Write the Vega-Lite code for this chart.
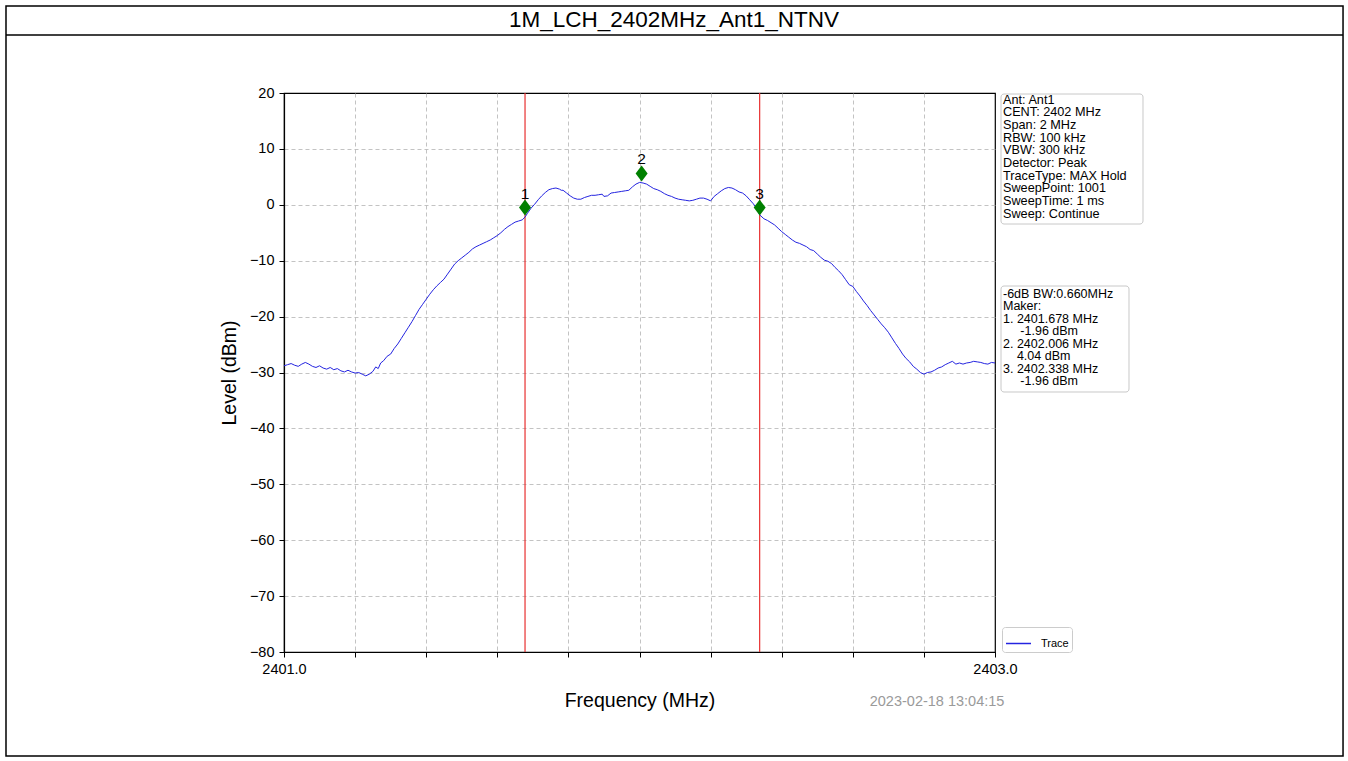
{
  "$schema": "https://vega.github.io/schema/vega-lite/v6.json",
  "autosize": {"type": "none"},
  "padding": {"left": 284, "top": 93, "right": 353, "bottom": 109},
  "width": 711,
  "height": 559,
  "background": "white",
  "datasets": {
    "trace": [
      {"f": 2401.000, "lvl": -28.8}, {"f": 2401.010, "lvl": -28.6}, {"f": 2401.020, "lvl": -28.4},
      {"f": 2401.030, "lvl": -28.7}, {"f": 2401.040, "lvl": -28.9}, {"f": 2401.050, "lvl": -28.5},
      {"f": 2401.060, "lvl": -28.2}, {"f": 2401.070, "lvl": -28.5}, {"f": 2401.080, "lvl": -28.9},
      {"f": 2401.090, "lvl": -29.1}, {"f": 2401.100, "lvl": -28.8}, {"f": 2401.110, "lvl": -29.2},
      {"f": 2401.120, "lvl": -29.4}, {"f": 2401.130, "lvl": -29.1}, {"f": 2401.140, "lvl": -29.5},
      {"f": 2401.150, "lvl": -29.3}, {"f": 2401.160, "lvl": -29.7}, {"f": 2401.170, "lvl": -29.9},
      {"f": 2401.180, "lvl": -29.6}, {"f": 2401.190, "lvl": -29.9}, {"f": 2401.200, "lvl": -30.1},
      {"f": 2401.210, "lvl": -30.0}, {"f": 2401.220, "lvl": -30.3}, {"f": 2401.230, "lvl": -30.6},
      {"f": 2401.240, "lvl": -30.3}, {"f": 2401.250, "lvl": -29.8}, {"f": 2401.258, "lvl": -29.0},
      {"f": 2401.265, "lvl": -29.3}, {"f": 2401.272, "lvl": -28.3}, {"f": 2401.280, "lvl": -27.9},
      {"f": 2401.290, "lvl": -27.1}, {"f": 2401.300, "lvl": -26.7}, {"f": 2401.310, "lvl": -25.7},
      {"f": 2401.320, "lvl": -24.9}, {"f": 2401.330, "lvl": -23.9}, {"f": 2401.340, "lvl": -22.9},
      {"f": 2401.350, "lvl": -21.9}, {"f": 2401.360, "lvl": -20.9}, {"f": 2401.370, "lvl": -19.8},
      {"f": 2401.380, "lvl": -18.7}, {"f": 2401.390, "lvl": -17.8}, {"f": 2401.400, "lvl": -16.9},
      {"f": 2401.410, "lvl": -16.0}, {"f": 2401.420, "lvl": -15.2}, {"f": 2401.430, "lvl": -14.5},
      {"f": 2401.440, "lvl": -13.9}, {"f": 2401.450, "lvl": -13.3}, {"f": 2401.460, "lvl": -12.4},
      {"f": 2401.470, "lvl": -11.5}, {"f": 2401.480, "lvl": -10.6}, {"f": 2401.490, "lvl": -10.0},
      {"f": 2401.500, "lvl": -9.5}, {"f": 2401.510, "lvl": -9.0}, {"f": 2401.520, "lvl": -8.5},
      {"f": 2401.530, "lvl": -7.9}, {"f": 2401.540, "lvl": -7.5}, {"f": 2401.550, "lvl": -7.2},
      {"f": 2401.560, "lvl": -6.9}, {"f": 2401.570, "lvl": -6.6}, {"f": 2401.580, "lvl": -6.3},
      {"f": 2401.590, "lvl": -5.9}, {"f": 2401.600, "lvl": -5.5}, {"f": 2401.610, "lvl": -5.0},
      {"f": 2401.620, "lvl": -4.4}, {"f": 2401.630, "lvl": -3.9}, {"f": 2401.640, "lvl": -3.5},
      {"f": 2401.650, "lvl": -3.1}, {"f": 2401.660, "lvl": -2.9}, {"f": 2401.670, "lvl": -2.7},
      {"f": 2401.678, "lvl": -2.2}, {"f": 2401.685, "lvl": -1.5}, {"f": 2401.695, "lvl": -0.6},
      {"f": 2401.705, "lvl": 0.1}, {"f": 2401.715, "lvl": 0.9}, {"f": 2401.725, "lvl": 1.6},
      {"f": 2401.735, "lvl": 2.2}, {"f": 2401.745, "lvl": 2.7}, {"f": 2401.755, "lvl": 2.9},
      {"f": 2401.765, "lvl": 3.0}, {"f": 2401.775, "lvl": 2.8}, {"f": 2401.780, "lvl": 2.6},
      {"f": 2401.785, "lvl": 2.6}, {"f": 2401.795, "lvl": 2.1}, {"f": 2401.805, "lvl": 1.6},
      {"f": 2401.815, "lvl": 1.2}, {"f": 2401.825, "lvl": 1.0}, {"f": 2401.835, "lvl": 1.0},
      {"f": 2401.845, "lvl": 1.3}, {"f": 2401.855, "lvl": 1.5}, {"f": 2401.865, "lvl": 1.7},
      {"f": 2401.875, "lvl": 1.7}, {"f": 2401.885, "lvl": 1.8}, {"f": 2401.895, "lvl": 1.9},
      {"f": 2401.900, "lvl": 1.5}, {"f": 2401.910, "lvl": 1.6}, {"f": 2401.920, "lvl": 2.1},
      {"f": 2401.930, "lvl": 2.2}, {"f": 2401.940, "lvl": 2.3}, {"f": 2401.950, "lvl": 2.4},
      {"f": 2401.960, "lvl": 2.5}, {"f": 2401.970, "lvl": 2.6}, {"f": 2401.980, "lvl": 3.2},
      {"f": 2401.990, "lvl": 3.7}, {"f": 2402.000, "lvl": 4.0}, {"f": 2402.010, "lvl": 3.9},
      {"f": 2402.020, "lvl": 3.7}, {"f": 2402.030, "lvl": 3.3}, {"f": 2402.040, "lvl": 2.9},
      {"f": 2402.050, "lvl": 2.7}, {"f": 2402.060, "lvl": 2.4}, {"f": 2402.070, "lvl": 2.0},
      {"f": 2402.080, "lvl": 1.7}, {"f": 2402.090, "lvl": 1.5}, {"f": 2402.100, "lvl": 1.2},
      {"f": 2402.110, "lvl": 1.0}, {"f": 2402.120, "lvl": 0.9}, {"f": 2402.130, "lvl": 0.8},
      {"f": 2402.140, "lvl": 0.7}, {"f": 2402.150, "lvl": 0.8}, {"f": 2402.160, "lvl": 1.0},
      {"f": 2402.170, "lvl": 1.2}, {"f": 2402.180, "lvl": 1.2}, {"f": 2402.190, "lvl": 1.0},
      {"f": 2402.200, "lvl": 0.7}, {"f": 2402.210, "lvl": 1.5}, {"f": 2402.220, "lvl": 2.0},
      {"f": 2402.230, "lvl": 2.5}, {"f": 2402.240, "lvl": 2.9}, {"f": 2402.250, "lvl": 3.1},
      {"f": 2402.260, "lvl": 3.0}, {"f": 2402.270, "lvl": 2.7}, {"f": 2402.280, "lvl": 2.3},
      {"f": 2402.290, "lvl": 2.1}, {"f": 2402.300, "lvl": 1.6}, {"f": 2402.310, "lvl": 0.9},
      {"f": 2402.320, "lvl": 0.2}, {"f": 2402.330, "lvl": -0.7}, {"f": 2402.338, "lvl": -1.8},
      {"f": 2402.350, "lvl": -2.5}, {"f": 2402.360, "lvl": -2.8}, {"f": 2402.370, "lvl": -3.2},
      {"f": 2402.380, "lvl": -3.6}, {"f": 2402.390, "lvl": -4.2}, {"f": 2402.400, "lvl": -4.8},
      {"f": 2402.410, "lvl": -5.3}, {"f": 2402.420, "lvl": -5.8}, {"f": 2402.430, "lvl": -6.3},
      {"f": 2402.440, "lvl": -6.7}, {"f": 2402.450, "lvl": -6.9}, {"f": 2402.460, "lvl": -7.2},
      {"f": 2402.470, "lvl": -7.5}, {"f": 2402.480, "lvl": -8.0}, {"f": 2402.490, "lvl": -8.2},
      {"f": 2402.500, "lvl": -8.8}, {"f": 2402.510, "lvl": -9.4}, {"f": 2402.520, "lvl": -9.9},
      {"f": 2402.530, "lvl": -10.1}, {"f": 2402.540, "lvl": -10.5}, {"f": 2402.550, "lvl": -11.2},
      {"f": 2402.560, "lvl": -11.8}, {"f": 2402.570, "lvl": -12.5}, {"f": 2402.580, "lvl": -13.4},
      {"f": 2402.590, "lvl": -14.3}, {"f": 2402.600, "lvl": -14.6}, {"f": 2402.610, "lvl": -15.5},
      {"f": 2402.620, "lvl": -16.3}, {"f": 2402.630, "lvl": -17.2}, {"f": 2402.640, "lvl": -18.0},
      {"f": 2402.650, "lvl": -18.9}, {"f": 2402.660, "lvl": -19.7}, {"f": 2402.670, "lvl": -20.5},
      {"f": 2402.680, "lvl": -21.3}, {"f": 2402.690, "lvl": -22.0}, {"f": 2402.700, "lvl": -22.8},
      {"f": 2402.710, "lvl": -23.8}, {"f": 2402.720, "lvl": -24.8}, {"f": 2402.730, "lvl": -25.7},
      {"f": 2402.740, "lvl": -26.7}, {"f": 2402.750, "lvl": -27.5}, {"f": 2402.760, "lvl": -28.1},
      {"f": 2402.770, "lvl": -28.9}, {"f": 2402.780, "lvl": -29.4}, {"f": 2402.790, "lvl": -30.0},
      {"f": 2402.800, "lvl": -30.3}, {"f": 2402.810, "lvl": -30.0}, {"f": 2402.820, "lvl": -29.9},
      {"f": 2402.830, "lvl": -29.6}, {"f": 2402.840, "lvl": -29.2}, {"f": 2402.850, "lvl": -29.0},
      {"f": 2402.860, "lvl": -28.6}, {"f": 2402.870, "lvl": -28.3}, {"f": 2402.880, "lvl": -28.0},
      {"f": 2402.890, "lvl": -28.5}, {"f": 2402.900, "lvl": -28.3}, {"f": 2402.910, "lvl": -28.5},
      {"f": 2402.920, "lvl": -28.3}, {"f": 2402.930, "lvl": -28.2}, {"f": 2402.940, "lvl": -28.0},
      {"f": 2402.950, "lvl": -28.1}, {"f": 2402.960, "lvl": -28.2}, {"f": 2402.970, "lvl": -28.4},
      {"f": 2402.980, "lvl": -28.5}, {"f": 2402.990, "lvl": -28.2}, {"f": 2403.000, "lvl": -28.3}
    ],
    "markers": [
      {"marker": "1", "f": 2401.678, "lvl": -0.5},
      {"marker": "2", "f": 2402.006, "lvl": 5.6},
      {"marker": "3", "f": 2402.338, "lvl": -0.5}
    ],
    "bwlines": [
      {"f": 2401.678},
      {"f": 2402.338}
    ]
  },
  "layer": [
    {
      "data": {"values": [{}]},
      "mark": {"type": "rect", "filled": false, "stroke": "black", "strokeWidth": 1.5},
      "encoding": {
        "x": {"datum": 2400.218, "type": "quantitative", "scale": {"domain": [2401, 2403], "nice": false, "zero": false}},
        "x2": {"datum": 2403.979},
        "y": {"datum": 35.564, "type": "quantitative", "scale": {"domain": [-80, 20], "nice": false, "zero": false}},
        "y2": {"datum": -98.605}
      }
    },
    {
      "data": {"values": [{}]},
      "mark": {"type": "rule", "stroke": "black", "strokeWidth": 1.5},
      "encoding": {
        "x": {"datum": 2400.218, "type": "quantitative"},
        "x2": {"datum": 2403.979},
        "y": {"datum": 30.376, "type": "quantitative"}
      }
    },
    {
      "data": {"values": [{}]},
      "mark": {"type": "text", "fontSize": 22.5, "align": "center", "baseline": "middle", "color": "black"},
      "encoding": {
        "x": {"datum": 2402.097, "type": "quantitative"},
        "y": {"datum": 33.06, "type": "quantitative"},
        "text": {"value": "1M_LCH_2402MHz_Ant1_NTNV"}
      }
    },
    {
      "data": {"name": "bwlines"},
      "mark": {"type": "rule", "stroke": "#e83030", "strokeWidth": 1.2},
      "encoding": {
        "x": {"field": "f", "type": "quantitative"}
      }
    },
    {
      "data": {"name": "trace"},
      "mark": {"type": "line", "strokeWidth": 1, "clip": true},
      "encoding": {
        "x": {
          "field": "f", "type": "quantitative",
          "axis": {
            "title": "Frequency (MHz)",
            "values": [2401.0, 2401.2, 2401.4, 2401.6, 2401.8, 2402.0, 2402.2, 2402.4, 2402.6, 2402.8, 2403.0],
            "labelExpr": "datum.value == 2401 || datum.value == 2403 ? format(datum.value, '.1f') : ''",
            "labelFlush": false,
            "titlePadding": 16,
            "gridOpacity": {"condition": {"test": "datum.value == 2401 || datum.value == 2403", "value": 0}, "value": 1}
          }
        },
        "y": {
          "field": "lvl", "type": "quantitative",
          "axis": {
            "title": "Level (dBm)",
            "values": [-80, -70, -60, -50, -40, -30, -20, -10, 0, 10, 20],
            "format": "d",
            "titlePadding": 10,
            "gridOpacity": {"condition": {"test": "datum.value == 20 || datum.value == -80", "value": 0}, "value": 1}
          }
        },
        "color": {
          "datum": "Trace",
          "type": "nominal",
          "scale": {"range": ["#2424e0"]},
          "legend": {
            "title": null,
            "orient": "none",
            "legendX": 718,
            "legendY": 534,
            "symbolType": "stroke",
            "symbolSize": 625,
            "symbolStrokeWidth": 1.5,
            "labelFontSize": 11,
            "labelOffset": 9,
            "padding": 3,
            "strokeColor": "#cccccc",
            "fillColor": "white",
            "cornerRadius": 3
          }
        }
      }
    },
    {
      "data": {"name": "markers"},
      "mark": {"type": "point", "shape": "M0,-1L0.75,0L0,1L-0.75,0Z", "size": 256, "filled": true, "fill": "#008000", "stroke": null, "opacity": 1},
      "encoding": {
        "x": {"field": "f", "type": "quantitative"},
        "y": {"field": "lvl", "type": "quantitative"}
      }
    },
    {
      "data": {"name": "markers"},
      "mark": {"type": "text", "fontSize": 15.5, "align": "center", "baseline": "middle", "dy": -14, "color": "black"},
      "encoding": {
        "x": {"field": "f", "type": "quantitative"},
        "y": {"field": "lvl", "type": "quantitative"},
        "text": {"field": "marker"}
      }
    },
    {
      "data": {"values": [{}]},
      "mark": {"type": "rect", "fill": "white", "stroke": "#c8c8c8", "strokeWidth": 1, "cornerRadius": 3},
      "encoding": {
        "x": {"datum": 2403.0169, "type": "quantitative"},
        "x2": {"datum": 2403.4163},
        "y": {"datum": 19.82, "type": "quantitative"},
        "y2": {"datum": -3.435}
      }
    },
    {
      "data": {"values": [{}]},
      "mark": {"type": "text", "fontSize": 12.7, "lineHeight": 12.7, "align": "left", "baseline": "top", "color": "black"},
      "encoding": {
        "x": {"datum": 2403.0225, "type": "quantitative"},
        "y": {"datum": 19.9, "type": "quantitative"},
        "text": {"value": ["Ant: Ant1", "CENT: 2402 MHz", "Span: 2 MHz", "RBW: 100 kHz", "VBW: 300 kHz", "Detector: Peak", "TraceType: MAX Hold", "SweepPoint: 1001", "SweepTime: 1 ms", "Sweep: Continue"]}
      }
    },
    {
      "data": {"values": [{}]},
      "mark": {"type": "rect", "fill": "white", "stroke": "#c8c8c8", "strokeWidth": 1, "cornerRadius": 3},
      "encoding": {
        "x": {"datum": 2403.0169, "type": "quantitative"},
        "x2": {"datum": 2403.3769},
        "y": {"datum": -14.526, "type": "quantitative"},
        "y2": {"datum": -33.488}
      }
    },
    {
      "data": {"values": [{}]},
      "mark": {"type": "text", "fontSize": 12.5, "lineHeight": 12.5, "align": "left", "baseline": "top", "color": "black"},
      "encoding": {
        "x": {"datum": 2403.0225, "type": "quantitative"},
        "y": {"datum": -14.8, "type": "quantitative"},
        "text": {"value": ["-6dB BW:0.660MHz", "Maker:", "1. 2401.678 MHz", "\u200b\u00a0\u00a0\u00a0\u00a0\u00a0-1.96 dBm", "2. 2402.006 MHz", "\u200b\u00a0\u00a0\u00a0\u00a04.04 dBm", "3. 2402.338 MHz", "\u200b\u00a0\u00a0\u00a0\u00a0\u00a0-1.96 dBm"]}
      }
    },
    {
      "data": {"values": [{}]},
      "mark": {"type": "text", "fontSize": 14.5, "align": "center", "baseline": "middle", "color": "#9a9a9a"},
      "encoding": {
        "x": {"datum": 2402.837, "type": "quantitative"},
        "y": {"datum": -88.94, "type": "quantitative"},
        "text": {"value": "2023-02-18 13:04:15"}
      }
    }
  ],
  "config": {
    "font": "Liberation Sans",
    "view": {"stroke": "black", "strokeWidth": 1.2},
    "axis": {
      "labelFont": "Liberation Sans",
      "labelFontSize": 14.5,
      "labelColor": "black",
      "labelPadding": 5,
      "tickColor": "black",
      "tickSize": 5,
      "tickWidth": 1,
      "domainColor": "black",
      "domainWidth": 1.2,
      "grid": true,
      "gridColor": "#b4b4b4",
      "gridDash": [4, 3],
      "gridWidth": 0.8,
      "titleFont": "Liberation Sans",
      "titleFontSize": 19.5,
      "titleFontWeight": "normal",
      "titleColor": "black"
    },
    "legend": {
      "labelFont": "Liberation Sans",
      "labelColor": "black"
    },
    "text": {"font": "Liberation Sans"}
  }
}
